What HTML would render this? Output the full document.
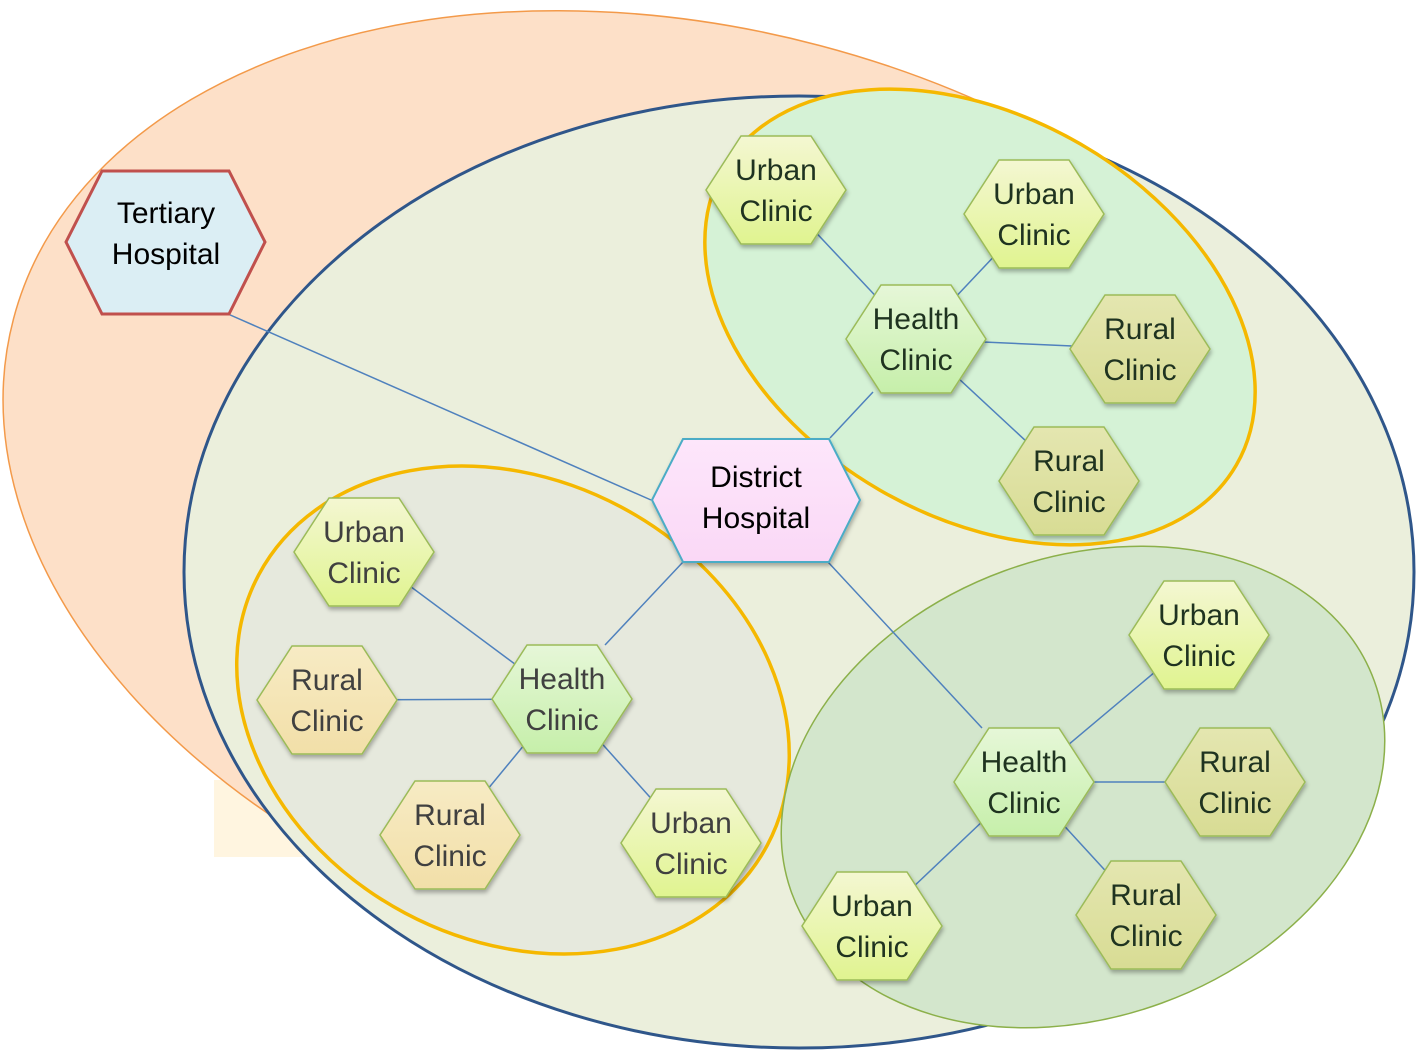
<!DOCTYPE html>
<html><head><meta charset="utf-8"><style>html,body{margin:0;background:#fff;overflow:hidden;width:1418px;height:1053px}svg{display:block}text{font-family:"Liberation Sans",sans-serif;font-size:30px;text-anchor:middle}</style></head><body>
<svg width="1418" height="1053" viewBox="0 0 1418 1053" overflow="hidden">
<defs>
<linearGradient id="ur" x1="0" y1="0" x2="0" y2="1"><stop offset="0" stop-color="#f4f7d2"/><stop offset="1" stop-color="#e0f490"/></linearGradient>
<linearGradient id="hc" x1="0" y1="0" x2="0" y2="1"><stop offset="0" stop-color="#e6f7d8"/><stop offset="1" stop-color="#c6efaa"/></linearGradient>
<linearGradient id="rc" x1="0" y1="0" x2="0" y2="1"><stop offset="0" stop-color="#f7ebc4"/><stop offset="1" stop-color="#f2dfa8"/></linearGradient>
<linearGradient id="rc2" x1="0" y1="0" x2="0" y2="1"><stop offset="0" stop-color="#e4e6b0"/><stop offset="1" stop-color="#d8dc94"/></linearGradient>
<linearGradient id="dh" x1="0" y1="0" x2="0" y2="1"><stop offset="0" stop-color="#fde6fb"/><stop offset="1" stop-color="#fad8f6"/></linearGradient>
<filter id="sh" x="-20%" y="-20%" width="140%" height="150%"><feDropShadow dx="1" dy="3" stdDeviation="2" flood-color="#000" flood-opacity="0.3"/></filter>
</defs>
<rect x="214" y="780" width="120" height="77" fill="#fff5e0"/>
<ellipse cx="700" cy="500" rx="710" ry="470" transform="rotate(14.8 700 500)" fill="#fde0c8" stroke="#f39a4a" stroke-width="1.5"/>
<ellipse cx="799" cy="572" rx="615" ry="476" fill="#ebefdc" stroke="#2f568a" stroke-width="3"/>
<ellipse cx="980" cy="317" rx="296" ry="200" transform="rotate(30 980 317)" fill="#d5f2d6" stroke="#f5b800" stroke-width="3.5"/>
<ellipse cx="513" cy="710" rx="288" ry="230" transform="rotate(28 513 710)" fill="#e6e9dd" stroke="#f5b800" stroke-width="3.5"/>
<ellipse cx="1083" cy="787" rx="310" ry="230" transform="rotate(-20 1083 787)" fill="#d3e6cc" stroke="#8cb04a" stroke-width="1.5"/>
<g stroke="#4f81bd" stroke-width="1.5">
<line x1="228" y1="314" x2="651" y2="500"/>
<line x1="683" y1="562" x2="605" y2="645"/>
<line x1="828" y1="562" x2="982" y2="728"/>
<line x1="830" y1="438" x2="873" y2="392"/>
<line x1="916" y1="339" x2="776" y2="190"/><line x1="916" y1="339" x2="1034" y2="214"/><line x1="916" y1="339" x2="1140" y2="349"/><line x1="916" y1="339" x2="1069" y2="481"/>
<line x1="562" y1="699" x2="364" y2="552"/><line x1="562" y1="699" x2="327" y2="700"/><line x1="562" y1="699" x2="450" y2="835"/><line x1="562" y1="699" x2="691" y2="843"/>
<line x1="1024" y1="782" x2="1199" y2="635"/><line x1="1024" y1="782" x2="1235" y2="782"/><line x1="1024" y1="782" x2="1146" y2="915"/><line x1="1024" y1="782" x2="872" y2="926"/>
</g>
<polygon points="102,171 229,171 265,242 229,314 102,314 66,242" fill="#dbeef4" stroke="#c0504d" stroke-width="3"/>
<text x="166" y="223" fill="#000">Tertiary</text><text x="166" y="264" fill="#000">Hospital</text>
<polygon points="683,439 829,439 860,500 829,562 683,562 652,500" fill="url(#dh)" stroke="#4bacc6" stroke-width="2" filter="url(#sh)"/>
<text x="756" y="487" fill="#000">District</text><text x="756" y="528" fill="#000">Hospital</text>
<g stroke="#9bbb59" stroke-width="1.5" filter="url(#sh)">
<polygon transform="translate(776,190)" points="-35,-54 35,-54 70,0 35,54 -35,54 -70,0" fill="url(#ur)"/>
<polygon transform="translate(1034,214)" points="-35,-54 35,-54 70,0 35,54 -35,54 -70,0" fill="url(#ur)"/>
<polygon transform="translate(916,339)" points="-35,-54 35,-54 70,0 35,54 -35,54 -70,0" fill="url(#hc)"/>
<polygon transform="translate(1140,349)" points="-35,-54 35,-54 70,0 35,54 -35,54 -70,0" fill="url(#rc2)"/>
<polygon transform="translate(1069,481)" points="-35,-54 35,-54 70,0 35,54 -35,54 -70,0" fill="url(#rc2)"/>
<polygon transform="translate(364,552)" points="-35,-54 35,-54 70,0 35,54 -35,54 -70,0" fill="url(#ur)"/>
<polygon transform="translate(327,700)" points="-35,-54 35,-54 70,0 35,54 -35,54 -70,0" fill="url(#rc)"/>
<polygon transform="translate(562,699)" points="-35,-54 35,-54 70,0 35,54 -35,54 -70,0" fill="url(#hc)"/>
<polygon transform="translate(450,835)" points="-35,-54 35,-54 70,0 35,54 -35,54 -70,0" fill="url(#rc)"/>
<polygon transform="translate(691,843)" points="-35,-54 35,-54 70,0 35,54 -35,54 -70,0" fill="url(#ur)"/>
<polygon transform="translate(1199,635)" points="-35,-54 35,-54 70,0 35,54 -35,54 -70,0" fill="url(#ur)"/>
<polygon transform="translate(1024,782)" points="-35,-54 35,-54 70,0 35,54 -35,54 -70,0" fill="url(#hc)"/>
<polygon transform="translate(1235,782)" points="-35,-54 35,-54 70,0 35,54 -35,54 -70,0" fill="url(#rc2)"/>
<polygon transform="translate(1146,915)" points="-35,-54 35,-54 70,0 35,54 -35,54 -70,0" fill="url(#rc2)"/>
<polygon transform="translate(872,926)" points="-35,-54 35,-54 70,0 35,54 -35,54 -70,0" fill="url(#ur)"/>
</g>
<g fill="#1f3320">
<text x="776" y="180">Urban</text><text x="776" y="221">Clinic</text>
<text x="1034" y="204">Urban</text><text x="1034" y="245">Clinic</text>
<text x="916" y="329">Health</text><text x="916" y="370">Clinic</text>
<text x="1140" y="339">Rural</text><text x="1140" y="380">Clinic</text>
<text x="1069" y="471">Rural</text><text x="1069" y="512">Clinic</text>
<text x="1199" y="625">Urban</text><text x="1199" y="666">Clinic</text>
<text x="1024" y="772">Health</text><text x="1024" y="813">Clinic</text>
<text x="1235" y="772">Rural</text><text x="1235" y="813">Clinic</text>
<text x="1146" y="905">Rural</text><text x="1146" y="946">Clinic</text>
<text x="872" y="916">Urban</text><text x="872" y="957">Clinic</text>
</g>
<g fill="#404040">
<text x="364" y="542">Urban</text><text x="364" y="583">Clinic</text>
<text x="327" y="690">Rural</text><text x="327" y="731">Clinic</text>
<text x="562" y="689">Health</text><text x="562" y="730">Clinic</text>
<text x="450" y="825">Rural</text><text x="450" y="866">Clinic</text>
<text x="691" y="833">Urban</text><text x="691" y="874">Clinic</text>
</g>
</svg>
</body></html>
